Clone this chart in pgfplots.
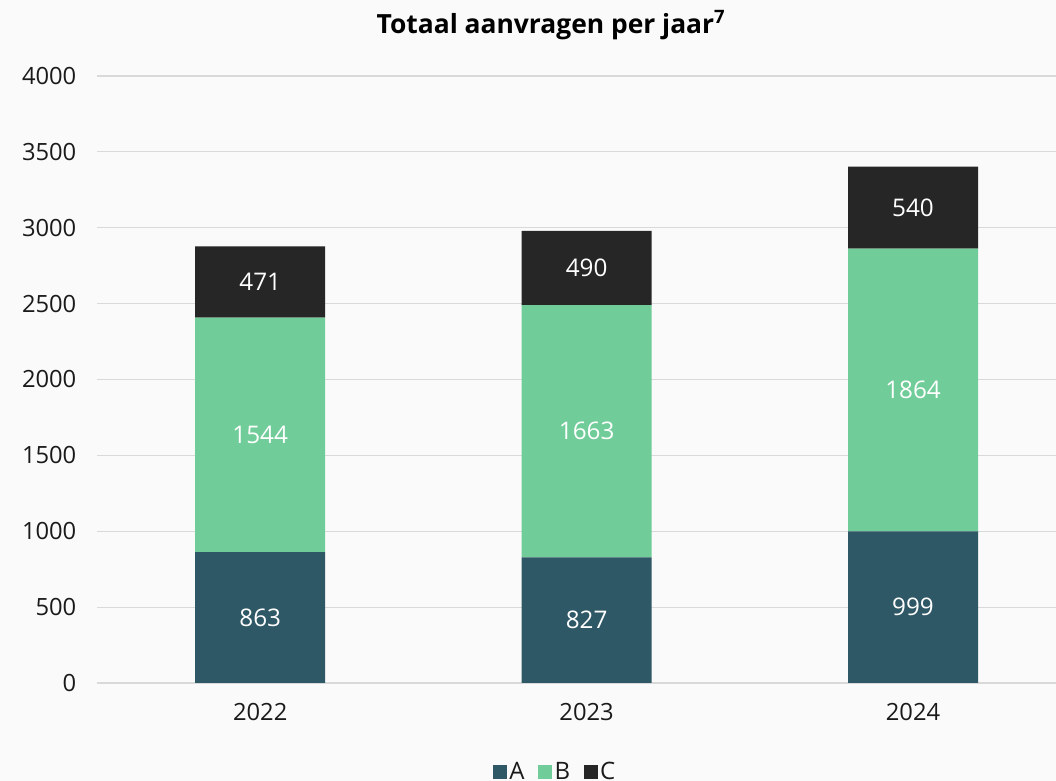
\documentclass[border=0pt]{standalone}
\usepackage{fontspec}
\setmainfont{Open Sans}
\usepackage{pgfplots}
\pgfplotsset{compat=1.18}
\usepackage{pgfplotstable}
\definecolor{cA}{HTML}{2F5866}
\definecolor{cB}{HTML}{70CC98}
\definecolor{cC}{HTML}{262626}
\definecolor{bg}{HTML}{FAFAFA}
\definecolor{gridc}{HTML}{D9D9D9}
\definecolor{txt}{HTML}{1A1A1A}
\pgfplotstableread{
x A B C
0 863 1544 471
1 827 1663 490
2 999 1864 540
}\data
\pgfplotstableread{
x mid lab
0 431.5 863
1 413.5 827
2 499.5 999
0 1635 1544
1 1658.5 1663
2 1931 1864
0 2642.5 471
1 2735 490
2 3133 540
}\labels
\pgfplotsset{
  common/.style={
    scale only axis, width=719.25pt, height=455.25pt,
    at={(72.75pt,73.5pt)}, anchor=south west,
    xmin=-0.5, xmax=2.438, ymin=0, ymax=4000,
  }
}
\begin{document}
\begin{tikzpicture}
\fill[bg] (0,0) rectangle (792pt,585.75pt);
\begin{axis}[common,
  ybar stacked, bar width=97.5pt,
  axis lines=left,
  axis line style={draw=none},
  ytick={0,500,...,4000}, xtick={0,1,2}, xticklabels={2022,2023,2024},
  ymajorgrids, grid style={gridc, line width=0.9pt},
  major tick length=0pt,
  tick style={draw=none},
  tick label style={font=\fontsize{17.8}{20}\selectfont, text=txt},
  /pgf/number format/assume math mode=true,
  /pgf/number format/1000 sep={},
  yticklabel style={xshift=-12pt},
  xticklabel style={yshift=-12pt},
  legend style={draw=none, fill=none, at={(0.478,-0.146)}, anchor=center,
    font=\fontsize{18}{20}\selectfont, text=txt,
    /tikz/every even column/.append style={column sep=8pt}},
  legend columns=-1,
  legend image code/.code={\fill[#1] (-2pt,-5.25pt) rectangle (8.5pt,5.25pt);},
  clip=false,
]
\addplot[fill=cA, draw=none] table[x=x, y=A] {\data};
\addplot[fill=cB, draw=none] table[x=x, y=B] {\data};
\addplot[fill=cC, draw=none] table[x=x, y=C] {\data};
\legend{A,B,C}
\end{axis}
\begin{axis}[common, axis lines=none, ticks=none]
\addplot[draw=none, mark=none, nodes near coords, point meta=explicit symbolic,
  every node near coord/.append style={anchor=center, text=white, font=\fontsize{18.2}{20}\selectfont}]
  table[x=x, y=mid, meta=lab] {\labels};
\end{axis}
\node[font=\bfseries\fontsize{19.8}{22}\selectfont, text=black] at (413.25pt,567pt) {Totaal aanvragen per jaar\textsuperscript{7}};
\pgfresetboundingbox
\path[use as bounding box] (0,0) rectangle (792pt,585.75pt);
\end{tikzpicture}
\end{document}
